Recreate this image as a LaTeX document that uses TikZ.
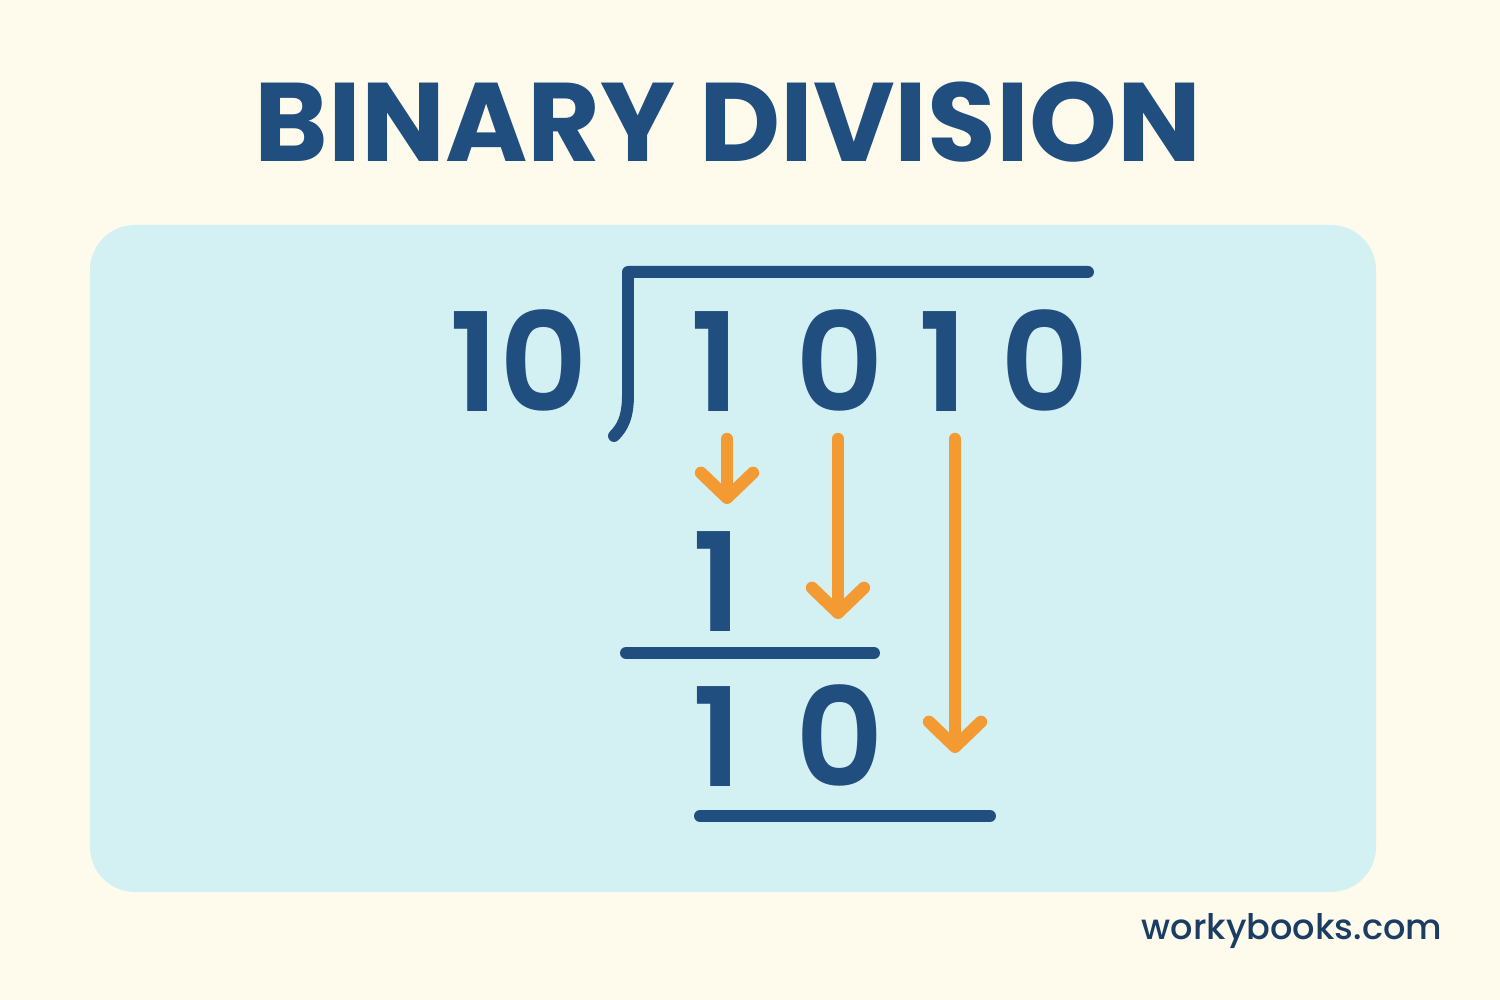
\documentclass[tikz,border=0pt]{standalone}
\usepackage{fontspec}
\setmainfont{Poppins}[BoldFont={Poppins SemiBold}]
\newfontfamily\titlefont{Poppins Bold}
\newfontfamily\sitefont{Poppins Medium}
\usetikzlibrary{arrows.meta}
\definecolor{cream}{HTML}{FEFBEC}
\definecolor{panel}{HTML}{D3F0F3}
\definecolor{navy}{HTML}{1F4E7F}
\definecolor{darknavy}{HTML}{1B3D63}
\definecolor{carrot}{HTML}{F39A33}
\tikzset{>={Straight Barb[length=2.5mm,width=5.2mm,round]}}
\tikzset{digit/.style={anchor=base,inner sep=0pt,text=navy,font=\fontsize{39}{46}\selectfont\bfseries}}
\tikzset{bar/.style={draw=navy,line width=3.4pt,line cap=round,line join=round}}
\tikzset{bring/.style={->,draw=carrot,line width=3.5pt,line cap=round}}

\begin{document}
\begin{tikzpicture}
\useasboundingbox (0,0) rectangle (15,10);
\fill [cream] (0,0) rectangle (15,10);
\fill [panel, rounded corners=0.45cm] (0.90,1.08) rectangle (13.76,7.75);
\node [anchor=base,inner sep=0pt,text=navy,font=\fontsize{31.8}{40}\titlefont] (title) at (7.28,8.38) {BINARY DIVISION};
\node [digit] (divisor) at (5.19,5.88) {10};
\node [digit] (d1) at (7.15,5.88) {1};
\node [digit] (d2) at (8.40,5.88) {0};
\node [digit] (d3) at (9.43,5.88) {1};
\node [digit] (d4) at (10.45,5.88) {0};
\draw [bar] (10.88,7.28) -- (6.28,7.28) -- (6.28,6.05) .. controls (6.28,5.82) and (6.22,5.72) .. (6.14,5.64);
\coordinate (s1) at (7.27,5.61);
\coordinate (s2) at (8.38,5.61);
\coordinate (s3) at (9.55,5.61);
\coordinate (e1) at (7.27,4.96);
\coordinate (e2) at (8.38,3.81);
\coordinate (e3) at (9.55,2.47);
\draw [bring] (s1) -- (e1);
\draw [bring] (s2) -- (e2);
\draw [bring] (s3) -- (e3);
\node [digit] (r1) at (7.17,3.68) {1};
\draw [bar] (6.26,3.47) -- (8.74,3.47);
\node [digit] (q1) at (7.17,2.13) {1};
\node [digit] (q2) at (8.40,2.13) {0};
\draw [bar] (7.0,1.84) -- (9.90,1.84);
\node [anchor=base,inner sep=0pt,text=darknavy,font=\fontsize{10}{13}\sitefont] (site) at (12.92,0.60) {workybooks.com};
\end{tikzpicture}
\end{document}
